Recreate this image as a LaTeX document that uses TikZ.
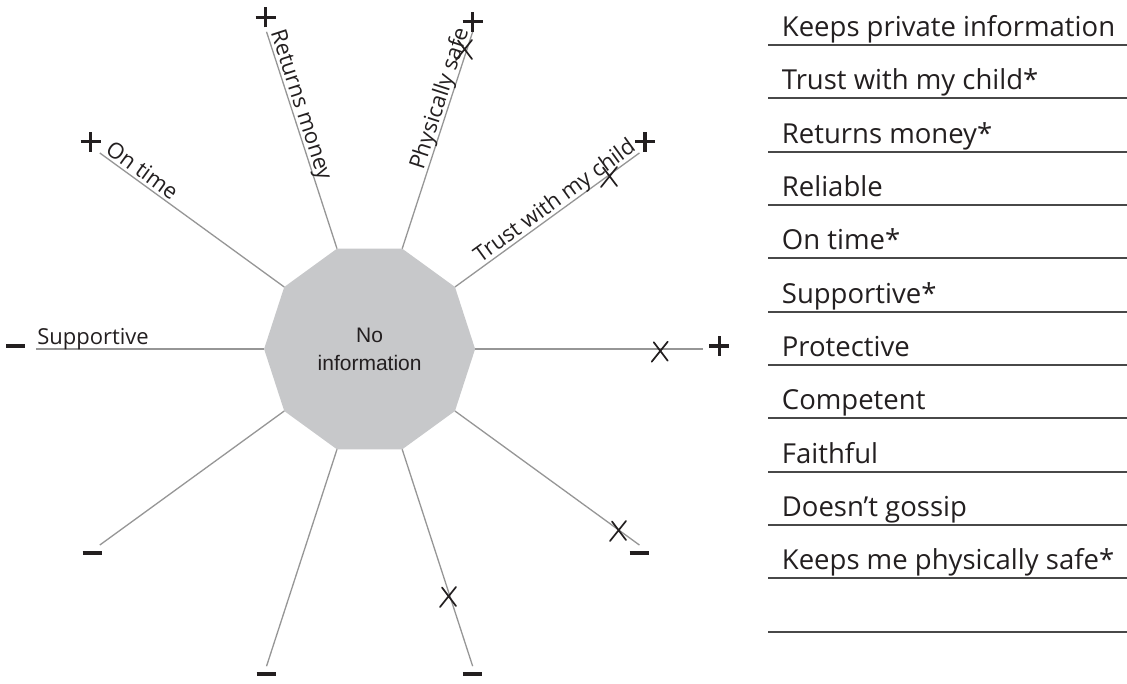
\documentclass[tikz,border=0pt]{standalone}
\usepackage{fontspec}
\setmainfont{Liberation Sans}
\newfontfamily\hand{Open Sans}
\usetikzlibrary{calc}
\definecolor{spokegray}{RGB}{150,150,150}
\definecolor{rulegray}{RGB}{72,72,72}
\definecolor{decafill}{RGB}{199,200,202}
\definecolor{ink}{RGB}{35,31,32}
\begin{document}
\begin{tikzpicture}[x=1pt,y=1pt,
  spoke/.style={draw=spokegray, line width=1.3pt},
  rule/.style={draw=rulegray, line width=1.8pt},
  spokelabel/.style={font=\hand\fontsize{22}{26}\selectfont, text=ink, inner sep=0pt},
  listitem/.style={font=\hand\fontsize{27.5}{32}\selectfont, text=ink, anchor=base west, inner sep=0pt},
  centertext/.style={font=\fontsize{21}{25}\selectfont, text=ink, anchor=base, inner sep=0pt},
  signline/.style={draw=ink, line width=3.4pt},
  xline/.style={draw=ink, line width=1.7pt, line cap=round},
  plussign/.pic={\draw[signline] (-10,0) -- (10,0) (0,-10) -- (0,10);},
  minussign/.pic={\draw[signline] (-9.5,0) -- (9.5,0);},
  crossmark/.pic={\draw[xline] (-7,9.5) -- (7,-9) (7,10) -- (-9,-10);}
]
\useasboundingbox (0,0) rectangle (1127,-684);
\fill[white] (0,0) rectangle (1127,-684);

% centre and decagon
\coordinate (C) at (369.6,-349);
\foreach \k in {0,...,9}{
  \coordinate (v\k) at ($(C)+(36*\k:105.5)$);
  \coordinate (o\k) at ($(C)+(36*\k:333.5)$);
}
\fill[decafill] (v0) -- (v1) -- (v2) -- (v3) -- (v4) -- (v5) -- (v6) -- (v7) -- (v8) -- (v9) -- cycle;
\node[centertext] (ctrA) at (369.6,-343) {No};
\node[centertext] (ctrB) at (369.6,-371) {information};

% spokes
\foreach \k in {0,...,9}{ \draw[spoke] (v\k) -- (o\k); }

% spoke labels
\node[spokelabel, rotate=-36, anchor=base west] (lOnTime) at ($(o4)+(54:3.5)+(-36:3)$) {On time};
\node[spokelabel, rotate=-72, anchor=base west] (lReturns) at ($(o3)+(18:3.5)+(-72:2)$) {Returns money};
\node[spokelabel, anchor=base west] (lSupport) at ($(o5)+(90:4)+(0:1)$) {Supportive};
\node[spokelabel, rotate=72, anchor=base east] (lSafe) at ($(o2)+(162:4)$) {Physically safe};
\node[spokelabel, rotate=36, anchor=base east] (lTrust) at ($(o1)+(126:4)$) {Trust with my child};

% plus signs
\coordinate (p3) at (265.7,-17.3);
\coordinate (p2) at (472.7,-21.7);
\coordinate (p4) at (90.7,-141.7);
\coordinate (p1) at (645,-141.7);
\coordinate (p0) at (719.3,-346);
\foreach \c in {p0,p1,p2,p3,p4}{ \pic at (\c) {plussign}; }

% minus signs
\coordinate (m5) at (15.7,-346);
\coordinate (m6) at (92,-553);
\coordinate (m7) at (266,-674);
\coordinate (m8) at (472.3,-674);
\coordinate (m9) at (639,-553);
\foreach \c in {m5,m6,m7,m8,m9}{ \pic at (\c) {minussign}; }

% crosses
\coordinate (x2) at (465,-50);
\coordinate (x1) at (610,-177);
\coordinate (x0) at (660.7,-351.7);
\coordinate (x8) at (449,-597);
\coordinate (x9) at (619,-531);
\foreach \c in {x0,x1,x2,x8,x9}{ \pic at (\c) {crossmark}; }

% list on the right
\foreach \i in {0,...,11}{
  \coordinate (ls\i) at (768.3,{-45-53.33*\i});
  \coordinate (le\i) at (1127,{-45-53.33*\i});
  \draw[rule] (ls\i) -- (le\i);
}
\foreach \i/\t in {0/{Keeps private information},1/{Trust with my child*},2/{Returns money*},3/{Reliable},4/{On time*},5/{Supportive*},6/{Protective},7/{Competent},8/{Faithful},9/{Doesn’t gossip},10/{Keeps me physically safe*}}{
  \node[listitem] (item\i) at (781.7,{-36.5-53.33*\i}) {\t};
}
\end{tikzpicture}
\end{document}
